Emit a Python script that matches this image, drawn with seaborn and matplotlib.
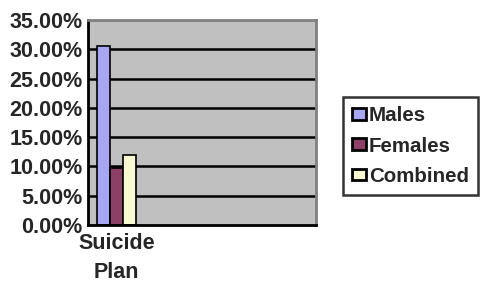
import pandas as pd
import numpy as np
import matplotlib
matplotlib.use("Agg")
import matplotlib.pyplot as plt
import seaborn as sns

categories = ["Suicide\nPlan", " ", "  ", "   "]
groups = ["Males", "Females", "Combined"]
values = [30.5, 9.8, 12.0]
colors = ["#9999FF", "#993366", "#FFFFCC"]
y_ticks = [0, 5, 10, 15, 20, 25, 30, 35]

df = pd.DataFrame({"cat": [categories[0]] * 3, "group": groups, "pct": values})

sns.set_style("white")
plt.rcParams["font.family"] = ["Liberation Sans", "DejaVu Sans"]
plt.rcParams["font.weight"] = "bold"

fig = plt.figure(figsize=(4.83, 2.83), dpi=100)
ax = fig.add_axes([88 / 483, 1 - 225 / 283, 228 / 483, 205 / 283])
ax.set_facecolor("#C0C0C0")

sns.barplot(data=df, x="cat", y="pct", hue="group", order=categories,
            hue_order=groups, palette=colors, width=0.67, gap=0,
            edgecolor="black", linewidth=1.2, ax=ax, legend=True)

ax.set_ylim(0, 35)
ax.set_xlim(-0.5, 3.5)
ax.set_yticks(y_ticks)
ax.set_yticklabels([f"{t:.2f}%" for t in y_ticks], fontsize=15.5, fontweight="bold")
for t in y_ticks[1:-1]:
    ax.axhline(t, color="black", linewidth=1.8, zorder=0.5)

ax.set_xticks([-0.5, 0.5, 1.5, 2.5, 3.5])
ax.set_xticklabels([])
ax.set_xticks([0, 1, 2, 3], minor=True)
ax.set_xticklabels(categories, minor=True, fontsize=15.5, fontweight="bold",
                   linespacing=1.45)
ax.tick_params(axis="x", which="minor", length=0, pad=6)
ax.tick_params(axis="x", which="major", length=5, width=1.5, direction="out", color="black")
ax.tick_params(axis="y", length=6, width=1.5, direction="inout", color="black", pad=1)
ax.set_xlabel("")
ax.set_ylabel("")

for side in ["top", "right"]:
    ax.spines[side].set_color("#808080")
    ax.spines[side].set_linewidth(2)
for side in ["left", "bottom"]:
    ax.spines[side].set_color("black")
    ax.spines[side].set_linewidth(2)

handles, labels = ax.get_legend_handles_labels()
ax.get_legend().remove()
leg = fig.legend(handles, labels, loc="upper left",
                 bbox_to_anchor=(343 / 483, 1 - 97 / 283),
                 prop={"size": 14.8, "weight": "bold"},
                 handlelength=0.65, handleheight=0.5, handletextpad=0.15,
                 labelspacing=0.55, borderpad=0.45, borderaxespad=0,
                 fancybox=False, frameon=True)
leg.get_frame().set_edgecolor("black")
leg.get_frame().set_linewidth(1.8)
for h in leg.legend_handles:
    h.set_linewidth(2)
    h.set_edgecolor("black")

fig.savefig("out.png", dpi=100)
